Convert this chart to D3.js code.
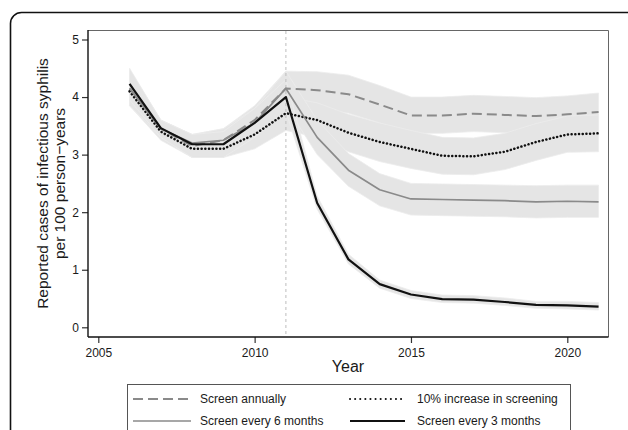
<!DOCTYPE html>
<html>
<head>
<meta charset="utf-8">
<script src="https://cdn.jsdelivr.net/npm/d3@7"></script>
<style>
  body { margin: 0; background: #fff; }
  svg { font-family: "Liberation Sans", Arial, sans-serif; }
</style>
</head>
<body>
<script>
var years = [2006, 2007, 2008, 2009, 2010, 2011, 2012, 2013, 2014, 2015, 2016, 2017, 2018, 2019, 2020, 2021]

// Screen annually
var annual   = [4.15, 3.45, 3.15, 3.25, 3.60, 4.15, 4.12, 4.05, 3.87, 3.68, 3.68, 3.71, 3.69, 3.67, 3.70, 3.74]
var annualLo = [3.85, 3.30, 2.95, 3.00, 3.30, 3.85, 3.80, 3.72, 3.55, 3.37, 3.37, 3.40, 3.38, 3.36, 3.39, 3.42]
var annualHi = [4.48, 3.60, 3.35, 3.45, 3.85, 4.45, 4.44, 4.38, 4.20, 4.00, 4.00, 4.03, 4.01, 3.99, 4.02, 4.07]

// 10% increase in screening
var tenPct   = [4.10, 3.40, 3.10, 3.10, 3.35, 3.72, 3.60, 3.38, 3.22, 3.10, 2.98, 2.97, 3.05, 3.22, 3.35, 3.37]
var tenPctLo = [3.85, 3.25, 2.95, 2.95, 3.10, 3.42, 3.30, 3.05, 2.88, 2.76, 2.66, 2.65, 2.74, 2.90, 3.04, 3.05]
var tenPctHi = [4.35, 3.55, 3.25, 3.30, 3.60, 4.00, 3.90, 3.70, 3.55, 3.42, 3.30, 3.29, 3.37, 3.54, 3.67, 3.69]

// Screen every 6 months
var six   = [4.15, 3.45, 3.20, 3.25, 3.55, 4.15, 3.30, 2.73, 2.39, 2.23, 2.22, 2.21, 2.20, 2.18, 2.19, 2.18]
var sixLo = [3.85, 3.30, 3.00, 3.05, 3.30, 3.85, 3.00, 2.45, 2.11, 1.95, 1.94, 1.93, 1.92, 1.90, 1.91, 1.91]
var sixHi = [4.45, 3.60, 3.35, 3.45, 3.80, 4.45, 3.60, 3.02, 2.67, 2.50, 2.49, 2.48, 2.47, 2.46, 2.47, 2.47]

// Screen every 3 months
var three   = [4.23, 3.46, 3.18, 3.18, 3.55, 4.00, 2.16, 1.18, 0.75, 0.57, 0.49, 0.48, 0.44, 0.39, 0.38, 0.36]
var threeLo = [3.95, 3.30, 2.95, 2.95, 3.30, 3.75, 2.05, 1.10, 0.68, 0.50, 0.43, 0.42, 0.38, 0.33, 0.32, 0.30]
var threeHi = [4.50, 3.60, 3.35, 3.40, 3.80, 4.30, 2.28, 1.27, 0.82, 0.64, 0.56, 0.55, 0.51, 0.45, 0.45, 0.43]

var xTicks = [2005, 2010, 2015, 2020]
var yTicks = [0, 1, 2, 3, 4, 5]
var interventionYear = 2011

var labels = ['Screen annually', '10% increase in screening', 'Screen every 6 months', 'Screen every 3 months']

var bandColor = '#e5e5e5'
var textColor = '#1a1a1a'

var svg = d3.select('body').append('svg')
    .attr('width', 628)
    .attr('height', 430)

// outer panel frame
svg.append('rect')
    .attr('x', 10.5)
    .attr('y', 12.5)
    .attr('width', 660)
    .attr('height', 460)
    .attr('rx', 11)
    .attr('fill', 'none')
    .attr('stroke', '#111')
    .attr('stroke-width', 1.6)

var plotLeft = 88, plotRight = 608, plotTop = 30, plotBottom = 337

var x = d3.scaleLinear().domain([2005, 2020]).range([98.3, 567.3])
var y = d3.scaleLinear().domain([0, 5]).range([327.3, 39.5])

// plot region outline (top/right)
svg.append('path')
    .attr('d', 'M' + plotLeft + ',' + (plotTop + 0.5) + 'H' + (plotRight + 0.5) + 'V' + plotBottom)
    .attr('fill', 'none')
    .attr('stroke', '#666')
    .attr('stroke-width', 1)

var series = [
    { lo: annualLo, hi: annualHi },
    { lo: tenPctLo, hi: tenPctHi },
    { lo: sixLo, hi: sixHi },
    { lo: threeLo, hi: threeHi }
]

var area = d3.area()
    .x(function (d) { return x(d.year) })
    .y0(function (d) { return y(d.lo) })
    .y1(function (d) { return y(d.hi) })

series.forEach(function (s) {
    var rows = years.map(function (yr, i) { return { year: yr, lo: s.lo[i], hi: s.hi[i] } })
    svg.append('path')
        .attr('d', area(rows))
        .attr('fill', bandColor)
        .attr('stroke', '#ececec')
        .attr('stroke-width', 0.8)
})

// intervention line
svg.append('line')
    .attr('x1', x(interventionYear))
    .attr('x2', x(interventionYear))
    .attr('y1', plotTop + 1)
    .attr('y2', plotBottom)
    .attr('stroke', '#bdbdbd')
    .attr('stroke-width', 1)
    .attr('stroke-dasharray', '3,3')

var line = d3.line()
    .x(function (d) { return x(d[0]) })
    .y(function (d) { return y(d[1]) })

function pairs(vals) { return years.map(function (yr, i) { return [yr, vals[i]] }) }

var styles = [
    { vals: annual, stroke: '#8a8a8a', width: 2, dash: '10,5', cap: 'butt' },
    { vals: tenPct, stroke: '#111', width: 2.5, dash: '0.1,3.6', cap: 'round' },
    { vals: six, stroke: '#8a8a8a', width: 1.7, dash: null, cap: 'butt' },
    { vals: three, stroke: '#111', width: 2.2, dash: null, cap: 'butt' }
]

styles.forEach(function (s) {
    svg.append('path')
        .attr('d', line(pairs(s.vals)))
        .attr('fill', 'none')
        .attr('stroke', s.stroke)
        .attr('stroke-width', s.width)
        .attr('stroke-dasharray', s.dash)
        .attr('stroke-linecap', s.cap)
        .attr('stroke-linejoin', 'round')
})

// axes
var xAxis = svg.append('g')
    .attr('transform', 'translate(0,' + plotBottom + ')')
    .call(d3.axisBottom(x).tickValues(xTicks).tickFormat(d3.format('d')).tickSize(6).tickSizeOuter(0))
xAxis.select('.domain').remove()
xAxis.append('line').attr('x1', plotLeft).attr('x2', plotRight + 0.5).attr('stroke', '#111').attr('stroke-width', 1.4)

var yAxis = svg.append('g')
    .attr('transform', 'translate(' + plotLeft + ',0)')
    .call(d3.axisLeft(y).tickValues(yTicks).tickFormat(d3.format('d')).tickSize(6).tickSizeOuter(0))
yAxis.select('.domain').remove()
yAxis.append('line').attr('y1', plotTop).attr('y2', plotBottom).attr('stroke', '#111').attr('stroke-width', 1.4)

svg.selectAll('.tick line').attr('stroke', '#333').attr('stroke-width', 1.2)
svg.selectAll('.tick text')
    .attr('fill', textColor)
    .style('font-size', '12px')
    .style('font-family', '"Liberation Sans", Arial, sans-serif')
xAxis.selectAll('.tick text').attr('dy', '0.88em')
yAxis.selectAll('.tick text').attr('x', -9)

// axis titles
svg.append('text')
    .attr('x', 348)
    .attr('y', 372)
    .attr('text-anchor', 'middle')
    .attr('fill', textColor)
    .style('font-size', '16px')
    .text('Year')

var yTitle = svg.append('text')
    .attr('transform', 'translate(0,' + ((plotTop + plotBottom) / 2) + ') rotate(-90)')
    .attr('text-anchor', 'middle')
    .attr('fill', textColor)
    .style('font-size', '15.5px')
yTitle.append('tspan').attr('x', 0).attr('y', 48).text('Reported cases of infectious syphilis')
yTitle.append('tspan').attr('x', 0).attr('y', 65).text('per 100 person\u2212years')

// legend
var legend = svg.append('g')
svg.append('rect')
    .attr('x', 127.5)
    .attr('y', 384.5)
    .attr('width', 443)
    .attr('height', 60)
    .attr('fill', 'none')
    .attr('stroke', '#555')
    .attr('stroke-width', 1)

var legendPos = [
    { x1: 133, x2: 191, tx: 200, ty: 399 },
    { x1: 350, x2: 405, tx: 417, ty: 399 },
    { x1: 133, x2: 191, tx: 200, ty: 421 },
    { x1: 350, x2: 405, tx: 417, ty: 421 }
]

styles.forEach(function (s, i) {
    var p = legendPos[i]
    legend.append('line')
        .attr('x1', p.x1).attr('x2', p.x2)
        .attr('y1', p.ty).attr('y2', p.ty)
        .attr('stroke', s.stroke)
        .attr('stroke-width', i === 1 ? 2 : s.width)
        .attr('stroke-dasharray', i === 1 ? '0.1,5' : s.dash)
        .attr('stroke-linecap', s.cap)
    legend.append('text')
        .attr('x', p.tx)
        .attr('y', p.ty)
        .attr('dy', '0.35em')
        .attr('fill', textColor)
        .style('font-size', '12px')
        .text(labels[i])
})
</script>
</body>
</html>
